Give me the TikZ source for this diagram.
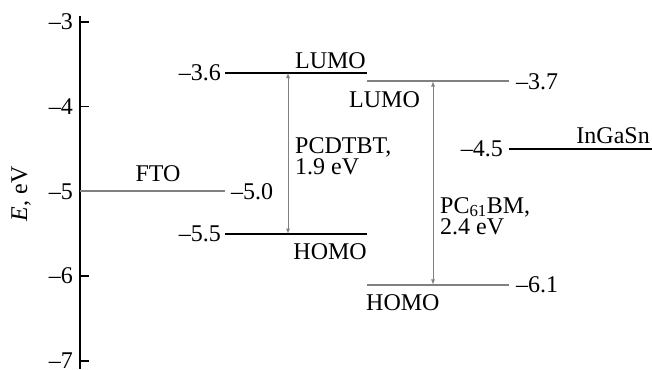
\documentclass[tikz,border=0pt]{standalone}
\usepackage{fontspec}
\setmainfont{Liberation Serif}
\usetikzlibrary{positioning}
\begin{document}
\begin{tikzpicture}[x=1pt, y=84.7pt, font=\fontsize{24}{21.5}\selectfont,
  blk/.style={line width=2.4pt},
  gry/.style={line width=2pt, draw=gray},
  gap/.style={<->, >=latex, draw=gray, line width=0.8pt},
  txt/.style={inner sep=0pt}]
 \useasboundingbox (0,-2.740) rectangle (652,-7.097);

 % energy axis with ticks from -3 to -7
 \draw [line width=1.8pt] (80,-2.93) -- (80,-7.097);
 \foreach \e in {3,...,7} {
  \draw [line width=1.4pt] (80,-\e) -- ++(9,0);
  \node [txt, anchor=east] (tick\e) at (73,-\e) {--\e};
 }
 \node [txt, rotate=90] (axis) at (21,-5.03) {\textit{E}, eV};

 % energy levels
 \draw [gry] (80,-5.0) -- (225,-5.0);
 \draw [blk] (225,-3.6) -- (367,-3.6);
 \draw [blk] (225,-5.5) -- (367,-5.5);
 \draw [gry] (367,-3.7) -- (509,-3.7);
 \draw [gry] (367,-6.1) -- (509,-6.1);
 \draw [blk] (509,-4.5) -- (652,-4.5);

 % level values
 \node [txt, anchor=west] (fto) at (231,-5.0) {--5.0};
 \node [txt, anchor=east] (dl) at (221,-3.6) {--3.6};
 \node [txt, anchor=east] (dh) at (221,-5.5) {--5.5};
 \node [txt, anchor=west] (bl) at (516,-3.7) {--3.7};
 \node [txt, anchor=west] (bh) at (516,-6.1) {--6.1};
 \node [txt, anchor=east] (ig) at (503,-4.5) {--4.5};

 % level names
 \node [txt, anchor=base] (ftoname) at (158,-4.877) {FTO};
 \node [txt, anchor=base east] (dlname) at (366,-3.543) {LUMO};
 \node [txt, anchor=north east] (dhname) at (367,-5.609) {HOMO};
 \node [txt, anchor=north west] (blname) at (349,-3.815) {LUMO};
 \node [txt, anchor=north west] (bhname) at (366,-6.211) {HOMO};
 \node [txt, anchor=base east] (igname) at (650,-4.429) {InGaSn};

 % band gaps
 \coordinate (dtop) at (288,-3.6);
 \coordinate (dbot) at (288,-5.5);
 \coordinate (btop) at (433,-3.7);
 \coordinate (bbot) at (433,-6.1);
 \draw [gap] (dtop) -- (dbot);
 \draw [gap] (btop) -- (bbot);
 \node [txt, anchor=north west, align=left] (dgap) at (295,-4.358) {PCDTBT,\\1.9 eV};
 \node [txt, anchor=north west, align=left] (bgap) at (440,-5.066) {PC\textsubscript{61}BM,\\2.4 eV};
\end{tikzpicture}
\end{document}
